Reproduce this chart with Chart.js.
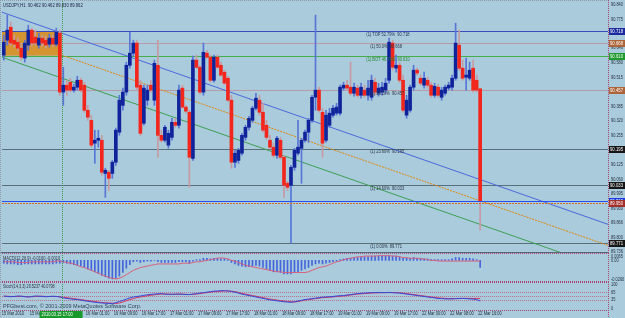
<!DOCTYPE html>
<html>
<head>
<meta charset="utf-8">
<script src="https://cdn.jsdelivr.net/npm/chart.js@4.4.1/dist/chart.umd.min.js"></script>
<style>
  html, body { margin: 0; padding: 0; background: #a9cbdc; overflow: hidden; }
  #wrap { position: relative; width: 625px; height: 318px; }
  canvas { position: absolute; left: 0; }
</style>
</head>
<body>
<div id="wrap">
  <canvas id="priceChart" width="625" height="253" style="top:0"></canvas>
  <canvas id="macdChart" width="625" height="29" style="top:253px"></canvas>
  <canvas id="stochChart" width="625" height="36" style="top:282px"></canvas>
</div>
<script>
"use strict";
// USDJPY H1, one value per hourly bar
const opens = [
  90.612,90.679,90.737,90.679,90.670,90.643,90.599,90.657,90.724,90.693,
  90.657,90.688,90.679,90.661,90.688,90.661,90.710,90.447,90.478,90.491,
  90.456,90.469,90.500,90.478,90.366,90.321,90.219,90.232,90.232,90.084,
  90.089,90.084,90.134,90.268,90.388,90.447,90.567,90.621,90.666,90.478,
  90.308,90.411,90.478,90.411,90.567,90.254,90.232,90.210,90.245,90.312,
  90.299,90.465,90.380,90.357,90.151,90.590,90.558,90.447,90.621,90.603,
  90.500,90.603,90.567,90.536,90.509,90.411,90.134,90.142,90.174,90.245,
  90.290,90.321,90.375,90.411,90.357,90.299,90.232,90.201,90.165,90.232,
  90.156,90.040,90.031,90.111,90.174,90.196,90.232,90.268,90.321,90.424,
  90.456,90.357,90.232,90.299,90.344,90.353,90.353,90.465,90.478,90.469,
  90.442,90.465,90.433,90.456,90.433,90.424,90.491,90.442,90.447,90.456,
  90.500,90.666,90.554,90.567,90.500,90.344,90.366,90.469,90.545,90.509,
  90.478,90.500,90.478,90.433,90.469,90.424,90.442,90.465,90.469,90.509,
  90.657,90.554,90.514,90.509,90.554,90.500,90.462
];
const highs = [
  90.701,90.791,90.760,90.701,90.688,90.657,90.679,90.746,90.733,90.724,
  90.710,90.701,90.697,90.706,90.701,90.733,90.724,90.558,90.500,90.509,
  90.482,90.518,90.509,90.491,90.388,90.344,90.277,90.277,90.254,90.107,
  90.098,90.142,90.286,90.433,90.465,90.581,90.715,90.679,90.679,90.500,
  90.478,90.478,90.500,90.590,90.679,90.277,90.299,90.277,90.330,90.330,
  90.478,90.478,90.388,90.366,90.608,90.612,90.567,90.666,90.634,90.612,
  90.612,90.612,90.581,90.545,90.518,90.433,90.187,90.196,90.263,90.299,
  90.339,90.384,90.442,90.433,90.397,90.321,90.254,90.219,90.250,90.245,
  90.165,90.049,90.120,90.196,90.321,90.241,90.277,90.330,90.433,90.791,
  90.469,90.375,90.366,90.375,90.388,90.397,90.478,90.491,90.500,90.581,
  90.487,90.478,90.487,90.478,90.500,90.523,90.509,90.487,90.491,90.509,
  90.688,90.679,90.612,90.581,90.523,90.433,90.478,90.567,90.554,90.523,
  90.536,90.514,90.491,90.487,90.482,90.469,90.478,90.491,90.523,90.755,
  90.724,90.590,90.599,90.581,90.590,90.523,90.462
];
const lows = [
  90.590,90.657,90.657,90.648,90.634,90.590,90.581,90.634,90.652,90.657,
  90.643,90.652,90.643,90.648,90.652,90.652,90.433,90.388,90.433,90.447,
  90.447,90.456,90.447,90.357,90.321,90.201,90.129,90.201,90.075,89.977,
  90.008,90.062,90.120,90.254,90.366,90.433,90.554,90.608,90.456,90.254,
  90.299,90.388,90.447,90.388,90.156,90.223,90.223,90.196,90.232,90.290,
  90.286,90.375,90.353,90.022,90.142,90.554,90.438,90.433,90.599,90.491,
  90.491,90.554,90.518,90.482,90.406,90.107,90.111,90.129,90.165,90.232,
  90.277,90.312,90.366,90.344,90.268,90.236,90.192,90.156,90.151,90.147,
  89.977,90.008,89.771,90.098,90.165,90.040,90.223,90.223,90.312,90.366,
  90.357,90.156,90.223,90.290,90.335,90.344,90.344,90.456,90.456,90.433,
  90.429,90.424,90.420,90.424,90.411,90.411,90.433,90.429,90.433,90.442,
  90.487,90.545,90.536,90.491,90.357,90.330,90.357,90.456,90.523,90.478,
  90.465,90.465,90.424,90.424,90.424,90.411,90.433,90.456,90.456,90.500,
  90.545,90.500,90.456,90.500,90.447,90.447,89.830
];
const closes = [
  90.670,90.724,90.666,90.661,90.643,90.603,90.666,90.724,90.666,90.666,
  90.688,90.666,90.657,90.688,90.661,90.715,90.447,90.478,90.456,90.456,
  90.469,90.500,90.456,90.366,90.335,90.210,90.232,90.241,90.089,90.098,
  90.062,90.134,90.277,90.411,90.447,90.567,90.621,90.666,90.469,90.263,
  90.465,90.456,90.456,90.576,90.254,90.232,90.290,90.263,90.312,90.299,
  90.456,90.380,90.362,90.156,90.590,90.558,90.447,90.625,90.603,90.500,
  90.603,90.558,90.523,90.487,90.411,90.134,90.174,90.187,90.254,90.290,
  90.330,90.375,90.420,90.357,90.277,90.245,90.201,90.165,90.241,90.156,
  90.031,90.022,90.111,90.187,90.201,90.232,90.268,90.321,90.424,90.456,
  90.366,90.219,90.344,90.353,90.375,90.380,90.469,90.478,90.465,90.442,
  90.469,90.433,90.469,90.433,90.465,90.500,90.447,90.465,90.469,90.487,
  90.670,90.558,90.567,90.500,90.366,90.411,90.469,90.545,90.532,90.487,
  90.509,90.478,90.433,90.473,90.433,90.456,90.469,90.478,90.509,90.666,
  90.554,90.509,90.523,90.545,90.456,90.456,89.962
];

const macdMain = [
  -0.004,-0.005,-0.005,-0.005,-0.006,-0.006,-0.005,-0.005,-0.005,-0.005,
  -0.005,-0.005,-0.005,-0.005,-0.005,-0.004,-0.004,
  -0.003,-0.004,-0.005,-0.006,-0.007,-0.008,-0.010,-0.012,-0.014,-0.016,
  -0.018,-0.021,-0.023,-0.025,-0.026,-0.025,-0.022,-0.017,-0.011,-0.006,
  -0.002,-0.001,-0.003,-0.002,-0.001,-0.001,0.000,-0.002,-0.003,-0.003,
  -0.003,-0.003,-0.003,-0.002,-0.002,-0.002,-0.004,-0.001,0.001,
  0.001,0.003,0.003,0.002,0.003,0.003,0.002,0.002,0.001,-0.003,
  -0.005,-0.007,-0.008,-0.009,-0.009,-0.008,-0.007,-0.008,-0.010,-0.012,
  -0.014,-0.016,-0.016,-0.017,-0.019,-0.019,-0.019,-0.017,-0.016,-0.014,
  -0.012,-0.010,-0.007,-0.005,-0.004,-0.005,-0.004,-0.003,-0.002,-0.001,
  0.001,0.002,0.003,0.003,0.004,
  0.004,0.005,0.005,0.005,0.006,0.006,0.006,0.006,0.006,0.0065,
  0.006,0.006,0.005,0.003,0.003,0.003,0.004,0.003,0.003,0.002,
  0.002,0.001,0.001,0.001,0.001,0.001,0.001,0.002,0.004,0.004,
  0.003,0.003,0.003,0.002,0.001,-0.010
];
const macdSignal = [
  -0.002,-0.002,-0.002,-0.002,-0.003,-0.003,-0.003,-0.003,-0.002,-0.002,
  -0.002,-0.002,-0.002,-0.002,-0.002,-0.001,-0.001,
  -0.002,-0.003,-0.004,-0.005,-0.007,-0.009,-0.010,-0.012,-0.014,-0.016,
  -0.018,-0.020,-0.022,-0.024,-0.025,-0.026,-0.025,-0.023,-0.020,-0.017,
  -0.014,-0.012,-0.010,-0.009,-0.008,-0.007,-0.006,-0.005,-0.005,-0.005,
  -0.005,-0.005,-0.005,-0.005,-0.004,-0.004,-0.004,-0.003,-0.002,
  -0.002,-0.001,0.000,0.001,0.002,0.003,0.0035,0.003,0.002,0.000,
  -0.001,-0.003,-0.005,-0.007,-0.008,-0.009,-0.010,-0.011,-0.012,-0.013,
  -0.014,-0.015,-0.016,-0.016,-0.017,-0.017,-0.017,-0.017,-0.017,-0.017,
  -0.017,-0.016,-0.014,-0.012,-0.010,-0.009,-0.008,-0.006,-0.004,-0.002,
  -0.001,0.001,0.002,0.003,0.004,
  0.005,0.005,0.006,0.006,0.006,0.006,0.0065,0.0065,0.0065,0.0065,
  0.006,0.006,0.005,0.004,0.004,0.003,0.003,0.003,0.002,0.002,
  0.001,0.000,0.000,-0.001,-0.001,-0.001,-0.001,-0.001,-0.001,-0.001,
  -0.001,-0.001,-0.001,-0.001,-0.001,-0.001
];

const stochMain = [
  50,48,47,48,50,49,47,46,48,50,49,48,47,48,49,48,46,
  42,40,38,36,35,33,30,28,26,24,22,21,20,19,18,
  22,27,32,37,42,46,48,50,53,55,57,58,59,60,
  58,57,57,58,58,57,56,56,58,60,62,
  64,66,68,70,71,72,72,71,69,
  66,62,58,55,52,49,46,43,40,37,34,32,30,28,26,25,24,
  26,29,32,35,37,39,41,43,45,46,47,48,50,51,52,
  54,56,58,60,61,62,63,64,64,65,64,64,65,64,63,
  62,60,58,56,54,52,50,48,46,44,42,40,39,38,
  38,38,39,40,40,39,38,37,35,29.5237
];
const stochSignal = [
  49,49,48,48,48,49,48,47,47,48,49,49,48,48,48,48,47,
  45,43,41,39,37,35,33,31,29,27,25,23,22,21,20,
  19,21,25,30,35,39,43,46,48,51,53,55,57,58,
  58,58,57,57,58,58,57,56,57,58,60,
  62,64,66,68,69,70,71,71,70,
  68,65,61,58,55,52,49,46,43,40,37,35,33,31,29,27,26,
  25,27,30,33,35,37,39,41,43,44,45,46,48,49,50,
  52,54,56,58,59,60,61,62,63,63,64,64,64,64,64,
  63,62,60,58,56,54,52,50,48,46,44,42,41,40,
  39,39,39,39,40,40,40,40,40,40.0798
];
const stochLevels = [65, 50, 35];

const priceTicks = [90.840,90.775,90.710,90.646,90.580,90.515,90.450,90.385,90.320,
  90.255,90.190,90.125,90.060,89.995,89.930,89.866,89.800,89.736];
const macdTicks = [0.0065, 0, -0.026];
const macdTickText = ["0.0065", "0.00", "-0.0260"];
const stochTicks = [100, 65, 35, 0];

// time labels: bar index and text
const timeBars = [0,8,16,24,32,40,48,56,64,72,80,88,96,104,112,120,128,136];
const timeTexts = ["15 Mar 2010","15 Mar 09:00","15 Mar 17:00","16 Mar 01:00","16 Mar 09:00",
  "16 Mar 17:00","17 Mar 01:00","17 Mar 09:00","17 Mar 17:00","18 Mar 01:00","18 Mar 09:00",
  "18 Mar 17:00","19 Mar 01:00","19 Mar 09:00","19 Mar 17:00","22 Mar 00:00","22 Mar 08:00",
  "22 Mar 16:00"];

// fibonacci levels
const fibPrices = [90.718, 90.668, 90.610, 90.457, 90.195, 90.033, 89.771];
const fibTexts = ["(1) TOP 52.79%  90.718", "(1) 50.0%  90.668", "(1) BOT 46.74%  90.610",
  "(1) 38.20%  90.457", "(1) 23.60%  90.195", "(1) 14.60%  90.033", "(1) 0.00%  89.771"];
const fibColors = ["#3b4bb8", "#b79aa8", "#46ad4c", "#b79aa8", "#57707c", "#57707c", "#57707c"];
const fibTextColors = ["#24345e", "#2c3444", "#23862f", "#2c3444", "#2c3444", "#2c3444", "#2c3444"];
const tagColors = ["#1b2a9e", "#ad6438", "#1e9a2e", "#ad6438", "#161616", "#161616", "#161616"];

const bidPrice = 89.962, askPrice = 89.950;
const separatorBar = 16.5;
const boxBars = [-1, 16.5], boxPrices = [90.718, 90.610];
// trend lines as [bar, price] pairs
const blueTrend = [[-0.5, 90.804], [172.6, 89.856]];
const orangeTrend = [[16.6, 90.612], [172.6, 89.762]];
const greenTrend = [[-0.5, 90.603], [158.9, 89.731]];

const slotCount = 173;
const slots = Array.from({length: slotCount}, (_, i) => i);

const sans = "'Liberation Sans', Arial, sans-serif";
Chart.defaults.font.family = sans;
Chart.defaults.animation = false;

const bullBody = "#10239a", bearBody = "#f2261c";
const bullWick = "#5876d6", bearWick = "#c79aa2";
const isBull = closes.map((c, i) => c >= opens[i]);

// small squeezed text, like the terminal's tiny font
function tiny(ctx, s, x, y, sx) {
  ctx.save();
  ctx.translate(x, y);
  ctx.scale(sx, 1);
  ctx.fillText(s, 0, 0);
  ctx.restore();
}

function xScaleCfg() {
  return { type: "category", display: false, offset: true, grid: { display: false } };
}
function yScaleCfg(min, max, ticks) {
  return {
    position: "right", min: min, max: max,
    afterFit(s) { s.width = 17; },
    afterBuildTicks(s) { s.ticks = ticks.map(v => ({ value: v })); },
    grid: { display: false, drawTicks: false },
    border: { display: false },
    ticks: { display: false }
  };
}
function axisLabels(chart, ticks, texts) {
  const { ctx, scales: { y } } = chart;
  ctx.save();
  ctx.font = "5px " + sans;
  ctx.textBaseline = "middle";
  ctx.fillStyle = "#1f2b3a";
  ticks.forEach((v, i) => tiny(ctx, texts[i], 611, y.getPixelForValue(v) + 0.5, 0.78));
  ctx.restore();
}

function hline(ctx, a, y, color, dash, w) {
  ctx.save();
  ctx.strokeStyle = color;
  ctx.lineWidth = w || 1;
  ctx.setLineDash(dash || []);
  ctx.beginPath();
  ctx.moveTo(a.left, Math.round(y) + 0.5);
  ctx.lineTo(a.right, Math.round(y) + 0.5);
  ctx.stroke();
  ctx.restore();
}
function vline(ctx, x, y0, y1, color, dash) {
  ctx.save();
  ctx.strokeStyle = color;
  ctx.lineWidth = 1;
  ctx.setLineDash(dash || []);
  ctx.beginPath();
  ctx.moveTo(Math.round(x) + 0.5, y0);
  ctx.lineTo(Math.round(x) + 0.5, y1);
  ctx.stroke();
  ctx.restore();
}
function rightBorder(chart) {
  const c = chart.ctx;
  vline(c, 608, 0, chart.height, "#a8446f", [1, 1]);
  vline(c, 0, 0, chart.height, "#8f9aa6", [1, 1]);
}

const priceDecor = {
  id: "priceDecor",
  beforeDatasetsDraw(chart) {
    const { ctx, chartArea: a, scales: { x, y } } = chart;
    ctx.save();
    ctx.beginPath();
    ctx.rect(a.left, a.top, a.right - a.left, a.bottom - a.top);
    ctx.clip();
    // rectangle object behind bars
    const bx0 = x.getPixelForValue(boxBars[0]), bx1 = x.getPixelForValue(boxBars[1]);
    const by0 = y.getPixelForValue(boxPrices[0]), by1 = y.getPixelForValue(boxPrices[1]);
    ctx.fillStyle = "#d39431";
    ctx.fillRect(bx0, by0, bx1 - bx0, by1 - by0);
    // fibo lines
    fibPrices.forEach((p, i) => hline(ctx, a, y.getPixelForValue(p), fibColors[i]));
    // trend lines
    const trend = (pts, color, dash) => {
      ctx.save();
      ctx.strokeStyle = color;
      ctx.lineWidth = 1;
      ctx.setLineDash(dash);
      ctx.beginPath();
      ctx.moveTo(x.getPixelForValue(pts[0][0]), y.getPixelForValue(pts[0][1]));
      ctx.lineTo(x.getPixelForValue(pts[1][0]), y.getPixelForValue(pts[1][1]));
      ctx.stroke();
      ctx.restore();
    };
    trend(blueTrend, "#4c68dc", []);
    trend(greenTrend, "#3e9f52", []);
    trend(orangeTrend, "#e0870e", [2, 1]);
    vline(ctx, x.getPixelForValue(separatorBar), a.top, a.bottom, "#3f9a4c", [1, 1]);
    ctx.restore();
  },
  afterDatasetsDraw(chart) {
    const { ctx, chartArea: a, scales: { x, y } } = chart;
    hline(ctx, a, y.getPixelForValue(bidPrice), "#2a4ff2", [], 1);
    hline(ctx, a, y.getPixelForValue(askPrice), "#d46c2a", [2, 1], 1);
    axisLabels(chart, priceTicks, priceTicks.map(v => v.toFixed(3)));
    ctx.save();
    ctx.font = "5px " + sans;
    ctx.textBaseline = "top";
    fibPrices.forEach((p, i) => {
      ctx.fillStyle = fibTextColors[i];
      const bx = (i === 0 || i === 2) ? 103.5 : 104.6;
      tiny(ctx, fibTexts[i], x.getPixelForValue(bx), y.getPixelForValue(p) + 1, 0.8);
    });
    // title
    ctx.fillStyle = "#1c2340";
    tiny(ctx, "USDJPY,H1  90.462 90.462 89.830 89.962", 3, 3, 0.84);
    // price tags on the axis
    const tag = (p, color) => {
      const ty = Math.round(y.getPixelForValue(p));
      ctx.fillStyle = color;
      ctx.fillRect(609, ty - 3, 16, 7);
      ctx.fillStyle = "#ffffff";
      ctx.textBaseline = "middle";
      tiny(ctx, p.toFixed(3), 610, ty + 0.5, 0.85);
    };
    fibPrices.forEach((p, i) => tag(p, tagColors[i]));
    tag(bidPrice, "#1d3ce6");
    tag(askPrice, "#a3302a");
    // frame
    hline(ctx, { left: 0, right: 608 }, 0, "#8f9aa6", [1, 1]);
    hline(ctx, { left: 0, right: 608 }, a.bottom, "#56687a", []);
    rightBorder(chart);
    ctx.restore();
  }
};

new Chart(document.getElementById("priceChart"), {
  type: "bar",
  data: {
    labels: slots,
    datasets: [
      {
        data: opens.map((o, i) => [o, closes[i]]),
        backgroundColor: isBull.map(b => b ? bullBody : bearBody),
        barThickness: 3, minBarLength: 1, grouped: false, order: 0
      },
      {
        data: lows.map((l, i) => [l, highs[i]]),
        backgroundColor: isBull.map(b => b ? bullWick : bearWick),
        barThickness: 1, grouped: false, order: 1
      }
    ]
  },
  options: {
    responsive: false, devicePixelRatio: 1,
    layout: { padding: { left: 2, right: 0, top: 1, bottom: 1 } },
    plugins: { legend: { display: false }, tooltip: { enabled: false } },
    scales: {
      x: xScaleCfg(),
      y: yScaleCfg(89.733, 90.854, priceTicks)
    }
  },
  plugins: [priceDecor]
});

const macdDecor = {
  id: "macdDecor",
  afterDatasetsDraw(chart) {
    const { ctx, scales: { x } } = chart;
    vline(ctx, x.getPixelForValue(separatorBar), 0, chart.height, "#3f9a4c", [1, 1]);
    axisLabels(chart, macdTicks, macdTickText);
    ctx.save();
    ctx.font = "5px " + sans;
    ctx.textBaseline = "top";
    ctx.fillStyle = "#2c3444";
    tiny(ctx, "MACD(12,26,9) -0.0100 -0.0010", 3, 3, 0.8);
    ctx.restore();
    hline(ctx, { left: 0, right: 608 }, 0, "#a8446f", [1, 1]);
    hline(ctx, { left: 0, right: 608 }, 28, "#a8446f", [1, 1]);
    rightBorder(chart);
  }
};

new Chart(document.getElementById("macdChart"), {
  type: "bar",
  data: {
    labels: slots,
    datasets: [
      { type: "line", data: macdSignal, borderColor: "#d8607a", borderWidth: 1,
        pointRadius: 0, order: 0 },
      { data: macdMain, backgroundColor: "#4565dc", barThickness: 1, order: 1 }
    ]
  },
  options: {
    responsive: false, devicePixelRatio: 1,
    layout: { padding: { left: 2, right: 0, top: 2, bottom: 2 } },
    plugins: { legend: { display: false }, tooltip: { enabled: false } },
    scales: {
      x: xScaleCfg(),
      y: yScaleCfg(-0.0275, 0.0075, macdTicks)
    }
  },
  plugins: [macdDecor]
});

const stochDecor = {
  id: "stochDecor",
  beforeDatasetsDraw(chart) {
    const { ctx, chartArea: a, scales: { y } } = chart;
    stochLevels.forEach(l => hline(ctx, a, y.getPixelForValue(l), "#b7708e", [1, 1]));
  },
  afterDatasetsDraw(chart) {
    const { ctx, chartArea: a, scales: { x } } = chart;
    const sx = x.getPixelForValue(separatorBar);
    vline(ctx, sx, 0, a.bottom + 2, "#3f9a4c", [1, 1]);
    axisLabels(chart, stochTicks, stochTicks.map(String));
    ctx.save();
    ctx.font = "5px " + sans;
    ctx.textBaseline = "top";
    ctx.fillStyle = "#2c3444";
    tiny(ctx, "Stoch(14,3,3) 29.5237 40.0798", 3, 2, 0.75);
    ctx.font = "5.5px " + sans;
    ctx.textBaseline = "alphabetic";
    ctx.fillStyle = "#34405a";
    ctx.fillText("PFGbest.com, \u00a9 2001-2009 MetaQuotes Software Corp.", 3, 26);
    hline(ctx, { left: 0, right: 608 }, 0, "#a8446f", [1, 1]);
    hline(ctx, { left: 0, right: 608 }, 28, "#a8446f", [1, 1]);
    // time scale
    ctx.font = "5px " + sans;
    ctx.textBaseline = "middle";
    ctx.fillStyle = "#1f2b3a";
    timeBars.forEach((b, i) => tiny(ctx, timeTexts[i], x.getPixelForValue(b) - 2, 32, 0.8));
    ctx.fillStyle = "#179a2a";
    ctx.fillRect(sx - 22, 29, 43, 7);
    ctx.fillStyle = "#ffffff";
    tiny(ctx, "2010.03.15 17:00", sx - 20, 32.5, 0.8);
    ctx.restore();
    rightBorder(chart);
  }
};

new Chart(document.getElementById("stochChart"), {
  type: "line",
  data: {
    labels: slots,
    datasets: [
      { data: stochMain, borderColor: "#3448d6", borderWidth: 1, pointRadius: 0 },
      { data: stochSignal, borderColor: "#e0345a", borderWidth: 1, pointRadius: 0 }
    ]
  },
  options: {
    responsive: false, devicePixelRatio: 1,
    layout: { padding: { left: 2, right: 0, top: 2, bottom: 10 } },
    plugins: { legend: { display: false }, tooltip: { enabled: false } },
    scales: {
      x: xScaleCfg(),
      y: yScaleCfg(0, 100, stochTicks)
    }
  },
  plugins: [stochDecor]
});
</script>
</body>
</html>
